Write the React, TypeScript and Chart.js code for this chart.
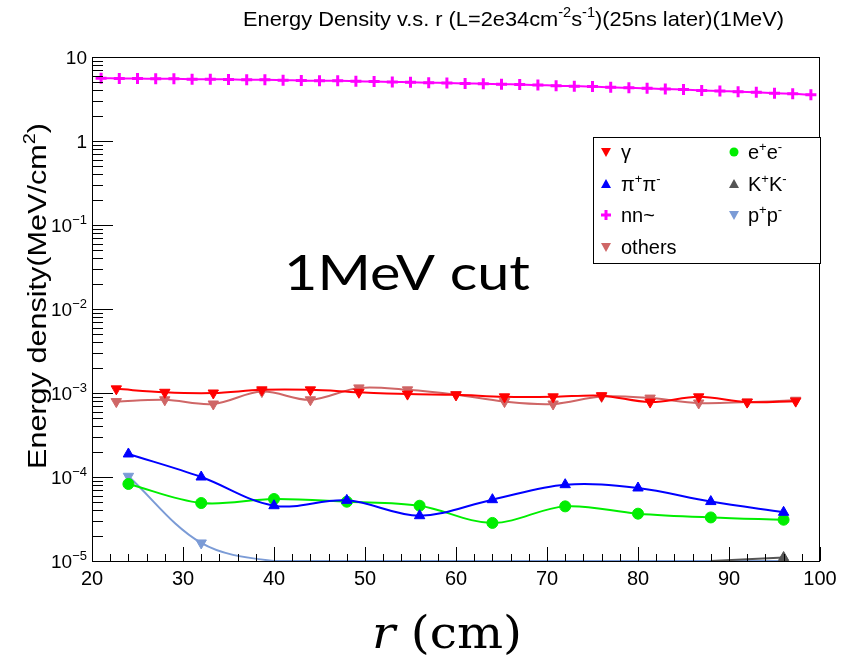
import React, { useEffect, useRef } from "react";
import { Chart, registerables } from "chart.js";
Chart.register(...registerables);

// ---------------- DATA ----------------
const rGamma = [22.67, 28, 33.33, 38.67, 44, 49.33, 54.67, 60, 65.33, 70.67, 76, 81.33, 86.67, 92, 97.33];
const gammaVals = [1.12e-3, 1.02e-3, 1.0e-3, 1.09e-3, 1.09e-3, 1.02e-3, 0.97e-3, 0.95e-3, 0.9e-3, 0.9e-3, 0.93e-3, 0.78e-3, 0.9e-3, 0.78e-3, 0.8e-3];
const othersVals = [0.79e-3, 0.83e-3, 0.74e-3, 1.04e-3, 0.83e-3, 1.15e-3, 1.09e-3, 0.955e-3, 0.79e-3, 0.74e-3, 0.91e-3, 0.87e-3, 0.76e-3, 0.78e-3, 0.82e-3];

const rPi = [24, 32, 40, 48, 56, 64, 72, 80, 88, 96];
const piVals = [1.88e-4, 1.0e-4, 0.455e-4, 0.527e-4, 0.346e-4, 0.537e-4, 0.81e-4, 0.74e-4, 0.51e-4, 0.38e-4];
const eeVals = [0.826e-4, 0.49e-4, 0.547e-4, 0.508e-4, 0.455e-4, 0.284e-4, 0.447e-4, 0.366e-4, 0.33e-4, 0.31e-4];
const ppVals = [1.02e-4, 1.64e-5, 1e-5, 1e-5, 1e-5, 1e-5, 1e-5, 1e-5, 1e-5, 1e-5];

const rK = [88, 96];
const kVals = [1.0e-5, 1.1e-5];

const rNN = [21, 23, 25, 27, 29, 31, 33, 35, 37, 39, 41, 43, 45, 47, 49, 51, 53, 55, 57, 59,
  61, 63, 65, 67, 69, 71, 73, 75, 77, 79, 81, 83, 85, 87, 89, 91, 93, 95, 97, 99];
const nnVals = [5.6, 5.55, 5.55, 5.5, 5.5, 5.45, 5.45, 5.4, 5.35, 5.35, 5.3, 5.25, 5.2, 5.2, 5.15, 5.1, 5.05, 5.0, 4.95, 4.9,
  4.85, 4.8, 4.75, 4.7, 4.65, 4.55, 4.5, 4.45, 4.35, 4.3, 4.25, 4.15, 4.1, 4.0, 3.95, 3.85, 3.8, 3.7, 3.65, 3.55];

const xTicks = [20, 30, 40, 50, 60, 70, 80, 90, 100];
const yDecades = [-5, -4, -3, -2, -1, 0, 1];

const TITLE = "Energy Density v.s. r (L=2e34cm";
const YTITLE = "Energy density(MeV/cm";
const NOTE = "1MeV cut";

// ---------------- STYLE ----------------
const W = 847, H = 664;
const AREA = { left: 92, top: 57, right: 820, bottom: 561 };
const SANS = "'Liberation Sans', Arial, Helvetica, sans-serif";

type Seg = { t: string; sup?: boolean; italic?: boolean };

function drawRich(ctx: CanvasRenderingContext2D, segs: Seg[], o: {
  x: number; y: number; size: number; family: string; align: "left" | "center" | "right";
  targetW?: number; rotate?: boolean; color?: string; supScale?: number;
}) {
  const ss = o.supScale || 0.65;
  const fontOf = (s: Seg) => `${s.italic ? "italic " : ""}${s.sup ? Math.round(o.size * ss) : o.size}px ${o.family}`;
  let total = 0;
  const widths = segs.map((s) => { ctx.font = fontOf(s); const w = ctx.measureText(s.t).width; total += w; return w; });
  const sx = o.targetW ? o.targetW / total : 1;
  ctx.save();
  ctx.translate(o.x, o.y);
  if (o.rotate) ctx.rotate(-Math.PI / 2);
  ctx.scale(sx, 1);
  let cx = o.align === "left" ? 0 : o.align === "center" ? -total / 2 : -total;
  ctx.fillStyle = o.color || "#000";
  ctx.textBaseline = "alphabetic";
  ctx.textAlign = "left";
  segs.forEach((s, i) => {
    ctx.font = fontOf(s);
    ctx.fillText(s.t, cx, s.sup ? -o.size * 0.42 : 0);
    cx += widths[i];
  });
  ctx.restore();
}

function marker(ctx: CanvasRenderingContext2D, kind: string, x: number, y: number, color: string) {
  ctx.save();
  ctx.fillStyle = color;
  ctx.beginPath();
  if (kind === "down") { ctx.moveTo(x - 5, y - 4); ctx.lineTo(x + 5, y - 4); ctx.lineTo(x, y + 5); ctx.closePath(); ctx.fill(); }
  else if (kind === "up") { ctx.moveTo(x - 5, y + 4); ctx.lineTo(x + 5, y + 4); ctx.lineTo(x, y - 5); ctx.closePath(); ctx.fill(); }
  else if (kind === "circle") { ctx.arc(x, y, 4.5, 0, Math.PI * 2); ctx.fill(); }
  else if (kind === "plus") { ctx.fillRect(x - 5, y - 1.5, 10, 3); ctx.fillRect(x - 1.5, y - 5, 3, 10); }
  ctx.restore();
}

const C_GAMMA = "#ff0000", C_EE = "#00ee00", C_PI = "#0000ff", C_K = "#555555",
  C_NN = "#ff00ff", C_PP = "#7b9bd6", C_OTH = "#cf6666";

const decorPlugin = {
  id: "decor",
  afterDraw(chart: any) {
    const ctx: CanvasRenderingContext2D = chart.ctx;
    const xs = chart.scales.x, ys = chart.scales.y;
    const { left, right, top, bottom } = chart.chartArea;
    ctx.save();
    ctx.strokeStyle = "#000";
    ctx.lineWidth = 1;
    ctx.strokeRect(left + 0.5, top + 0.5, right - left - 1, bottom - top);
    ctx.beginPath();
    for (let v = 20; v <= 100; v += 2) {
      const px = Math.round(xs.getPixelForValue(v)) + 0.5;
      const len = v % 10 === 0 ? 14 : 7;
      ctx.moveTo(px, bottom); ctx.lineTo(px, bottom - len);
    }
    for (const d of yDecades) {
      const py = Math.round(ys.getPixelForValue(Math.pow(10, d))) + 0.5;
      ctx.moveTo(left, py); ctx.lineTo(left + 21, py);
      if (d < 1) {
        for (let m = 2; m <= 9; m++) {
          const p = Math.round(ys.getPixelForValue(m * Math.pow(10, d))) + 0.5;
          ctx.moveTo(left, p); ctx.lineTo(left + 11, p);
        }
      }
    }
    ctx.stroke();
    ctx.restore();

    for (const v of xTicks) {
      drawRich(ctx, [{ t: String(v) }], { x: xs.getPixelForValue(v), y: 585, size: 20, family: SANS, align: "center" });
    }
    for (const d of yDecades) {
      const py = ys.getPixelForValue(Math.pow(10, d));
      const segs: Seg[] = d === 1 ? [{ t: "10" }] : d === 0 ? [{ t: "1" }] : [{ t: "10" }, { t: "\u2212" + Math.abs(d), sup: true }];
      drawRich(ctx, segs, { x: 87, y: py + 7, size: 19, family: SANS, align: "right", supScale: 0.7 });
    }
    drawRich(ctx, [{ t: TITLE }, { t: "-2", sup: true }, { t: "s" }, { t: "-1", sup: true }, { t: ")(25ns later)(1MeV)" }],
      { x: 243, y: 26, size: 21, family: SANS, align: "left", targetW: 541 });
    drawRich(ctx, [{ t: YTITLE }, { t: "2", sup: true }, { t: ")" }],
      { x: 46, y: 296, size: 26, family: SANS, align: "center", targetW: 346, rotate: true });
    drawRich(ctx, [{ t: "r", italic: true }, { t: " (cm)" }],
      { x: 447, y: 648, size: 44, family: "'DejaVu Serif', 'Liberation Serif', serif", align: "center", targetW: 150 });
    drawRich(ctx, [{ t: NOTE }], { x: 284, y: 290, size: 48, family: "Lato, 'Open Sans', sans-serif", align: "left", targetW: 246 });

    ctx.save();
    ctx.fillStyle = "#fff";
    ctx.fillRect(593, 137, 227, 126);
    ctx.strokeStyle = "#000";
    ctx.lineWidth = 1;
    ctx.strokeRect(593.5, 137.5, 227, 126);
    ctx.restore();
    const rows = [152, 184, 215, 247];
    const items: [string, string, Seg[], number, number][] = [
      ["down", C_GAMMA, [{ t: "\u03b3" }], 0, 0],
      ["circle", C_EE, [{ t: "e" }, { t: "+", sup: true }, { t: "e" }, { t: "-", sup: true }], 1, 0],
      ["up", C_PI, [{ t: "\u03c0" }, { t: "+", sup: true }, { t: "\u03c0" }, { t: "-", sup: true }], 0, 1],
      ["up", C_K, [{ t: "K" }, { t: "+", sup: true }, { t: "K" }, { t: "-", sup: true }], 1, 1],
      ["plus", C_NN, [{ t: "nn~" }], 0, 2],
      ["down", C_PP, [{ t: "p" }, { t: "+", sup: true }, { t: "p" }, { t: "-", sup: true }], 1, 2],
      ["down", C_OTH, [{ t: "others" }], 0, 3],
    ];
    for (const [kind, col, segs, c, r] of items) {
      const mx = c === 0 ? 606 : 734;
      const tx = c === 0 ? 621 : 748;
      marker(ctx, kind, mx, rows[r], col);
      drawRich(ctx, segs, { x: tx, y: rows[r] + 7, size: 20, family: SANS, align: "left" });
    }
  },
};

function pts(xs: number[], ys: number[]) {
  return xs.map((x, i) => ({ x, y: ys[i] }));
}

export default function App() {
  const ref = useRef<HTMLCanvasElement | null>(null);
  useEffect(() => {
    if (!ref.current) return;
    const common = { borderWidth: 2, tension: 0.35, pointBorderWidth: 1 };
    const chart = new Chart(ref.current, {
      type: "line",
      data: {
        datasets: [
          { ...common, label: "nn~", data: pts(rNN, nnVals), borderColor: C_NN, backgroundColor: C_NN, pointStyle: "cross", pointRadius: 5.5, pointBorderWidth: 3 } as any,
          { ...common, label: "\u03b3", data: pts(rGamma, gammaVals), borderColor: C_GAMMA, backgroundColor: C_GAMMA, pointStyle: "triangle", pointRotation: 180, pointRadius: 6 },
          { ...common, label: "others", data: pts(rGamma, othersVals), borderColor: C_OTH, backgroundColor: C_OTH, pointStyle: "triangle", pointRotation: 180, pointRadius: 6 },
          { ...common, label: "\u03c0+\u03c0-", data: pts(rPi, piVals), borderColor: C_PI, backgroundColor: C_PI, pointStyle: "triangle", pointRadius: 6 },
          { ...common, label: "e+e-", data: pts(rPi, eeVals), borderColor: C_EE, backgroundColor: C_EE, pointStyle: "circle", pointRadius: 5.5 },
          { ...common, label: "K+K-", data: pts(rK, kVals), borderColor: C_K, backgroundColor: C_K, pointStyle: "triangle", pointRadius: [0, 6] },
          { ...common, label: "p+p-", data: pts(rPi, ppVals), borderColor: C_PP, backgroundColor: C_PP, pointStyle: "triangle", pointRotation: 180, pointRadius: [6, 6, 0, 0, 0, 0, 0, 0, 0, 0] },
        ] as any,
      },
      options: {
        animation: false,
        responsive: false,
        devicePixelRatio: 1,
        layout: { padding: { left: 0, top: AREA.top, right: W - AREA.right, bottom: 0 } },
        plugins: { legend: { display: false }, title: { display: false }, tooltip: { enabled: false } },
        scales: {
          x: {
            type: "linear", min: 20, max: 100,
            ticks: { display: false, stepSize: 10 },
            grid: { display: false, drawTicks: false },
            border: { display: false },
            afterFit: (s: any) => { s.height = H - AREA.bottom; },
          },
          y: {
            type: "logarithmic", min: 1e-5, max: 10,
            ticks: { display: false },
            grid: { display: false, drawTicks: false },
            border: { display: false },
            afterFit: (s: any) => { s.width = AREA.left; },
          },
        },
      } as any,
      plugins: [decorPlugin],
    });
    return () => chart.destroy();
  }, []);
  return (
    <div style={{ position: "fixed", left: 0, top: 0, width: W, height: H, background: "#fff" }}>
      <canvas ref={ref} width={W} height={H} style={{ width: W, height: H, display: "block" }} />
    </div>
  );
}
